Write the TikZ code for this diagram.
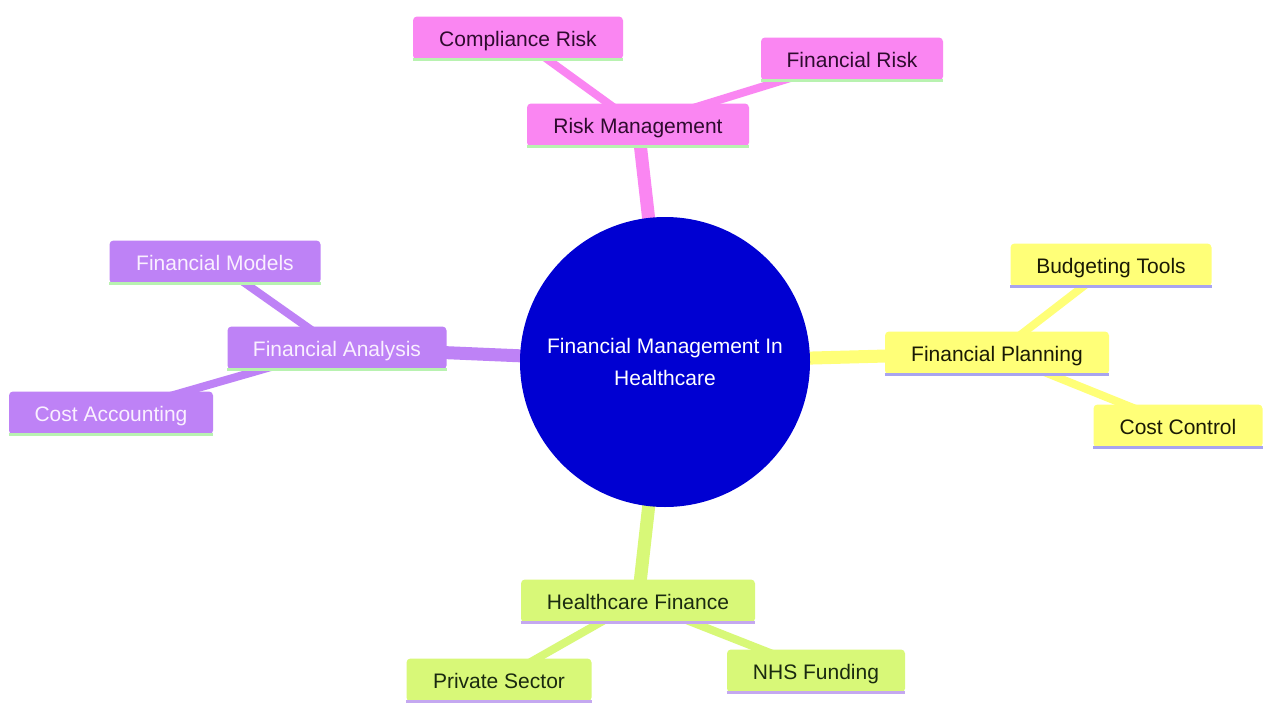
\documentclass[tikz,border=0pt]{standalone}
\usepackage{fontspec}
\setmainfont{Liberation Sans}
\pgfdeclarelayer{bg}
\pgfdeclarelayer{edges}
\pgfsetlayers{bg,edges,main}
\definecolor{cpink}{HTML}{FA86F2}
\definecolor{cpinkt}{HTML}{2E0B2E}
\definecolor{cpurple}{HTML}{BE82F6}
\definecolor{cpurplet}{HTML}{FAF0FF}
\definecolor{cyellow}{HTML}{FFFF78}
\definecolor{cyellowt}{HTML}{1A1A05}
\definecolor{cgreen}{HTML}{D8F878}
\definecolor{cgreent}{HTML}{1A2A10}
\definecolor{cblue}{HTML}{0000D2}
\definecolor{lgreen}{HTML}{B8F2B0}
\definecolor{llav}{HTML}{A8A4F0}
\definecolor{llav2}{HTML}{C4A8F0}
\tikzset{
  box/.style={rounded corners=4pt, minimum height=43pt, inner sep=0pt,
    text height=17pt, text depth=0pt,
    font=\fontsize{21}{24}\selectfont},
  pinkbox/.style={box, fill=cpink, text=cpinkt},
  purplebox/.style={box, fill=cpurple, text=cpurplet},
  yellowbox/.style={box, fill=cyellow, text=cyellowt},
  greenbox/.style={box, fill=cgreen, text=cgreent},
  root/.style={circle, fill=cblue, text=white, minimum size=290pt, inner sep=0pt,
    align=center, font=\fontsize{21}{32}\selectfont},
  thick edge/.style={line width=13pt},
  thin edge/.style={line width=8pt},
  bline/.style={line width=3pt},
}
\begin{document}
\begin{tikzpicture}[x=1pt,y=-1pt]
\begin{pgfonlayer}{bg}
\fill[white] (0,0) rectangle (1264,704);
\end{pgfonlayer}
\useasboundingbox (0,0) rectangle (1264,704);
% root
\node[root] (root) at (665,362) {Financial Management In\\Healthcare};
% risk
\node[pinkbox, minimum width=222pt] (rm) at (638,125) {Risk Management};
\node[pinkbox, minimum width=210pt] (cr) at (518,38) {Compliance Risk};
\node[pinkbox, minimum width=182pt] (fr) at (852,59) {Financial Risk};
% analysis
\node[purplebox, minimum width=219pt] (fa) at (337,348) {Financial Analysis};
\node[purplebox, minimum width=211pt] (fm) at (215,262) {Financial Models};
\node[purplebox, minimum width=204pt] (ca) at (111,413) {Cost Accounting};
% planning
\node[yellowbox, minimum width=224pt] (fp) at (997,353) {Financial Planning};
\node[yellowbox, minimum width=201pt] (bt) at (1111,265) {Budgeting Tools};
\node[yellowbox, minimum width=169pt] (cc) at (1178,426) {Cost Control};
% finance
\node[greenbox, minimum width=234pt] (hf) at (638,601) {Healthcare Finance};
\node[greenbox, minimum width=185pt] (ps) at (499,680) {Private Sector};
\node[greenbox, minimum width=178pt] (nf) at (816,671) {NHS Funding};
% bottom lines
\foreach \n in {rm,cr,fr,fa,fm,ca}
  \draw[bline, lgreen] (\n.south west) -- (\n.south east);
\foreach \n in {fp,bt,cc}
  \draw[bline, llav] (\n.south west) -- (\n.south east);
\foreach \n in {hf,ps,nf}
  \draw[bline, llav2] (\n.south west) -- (\n.south east);
% edges
\begin{pgfonlayer}{edges}
  \draw[thick edge, cpink] (root.center) -- (rm.center);
  \draw[thin edge, cpink] (rm.center) -- (cr.center);
  \draw[thin edge, cpink] (rm.center) -- (fr.center);
  \draw[thick edge, cpurple] (root.center) -- (fa.center);
  \draw[thin edge, cpurple] (fa.center) -- (fm.center);
  \draw[thin edge, cpurple] (fa.center) -- (ca.center);
  \draw[thick edge, cyellow] (root.center) -- (fp.center);
  \draw[thin edge, cyellow] (fp.center) -- (bt.center);
  \draw[thin edge, cyellow] (fp.center) -- (cc.center);
  \draw[thick edge, cgreen] (root.center) -- (hf.center);
  \draw[thin edge, cgreen] (hf.center) -- (ps.center);
  \draw[thin edge, cgreen] (hf.center) -- (nf.center);
\end{pgfonlayer}
\end{tikzpicture}
\end{document}
